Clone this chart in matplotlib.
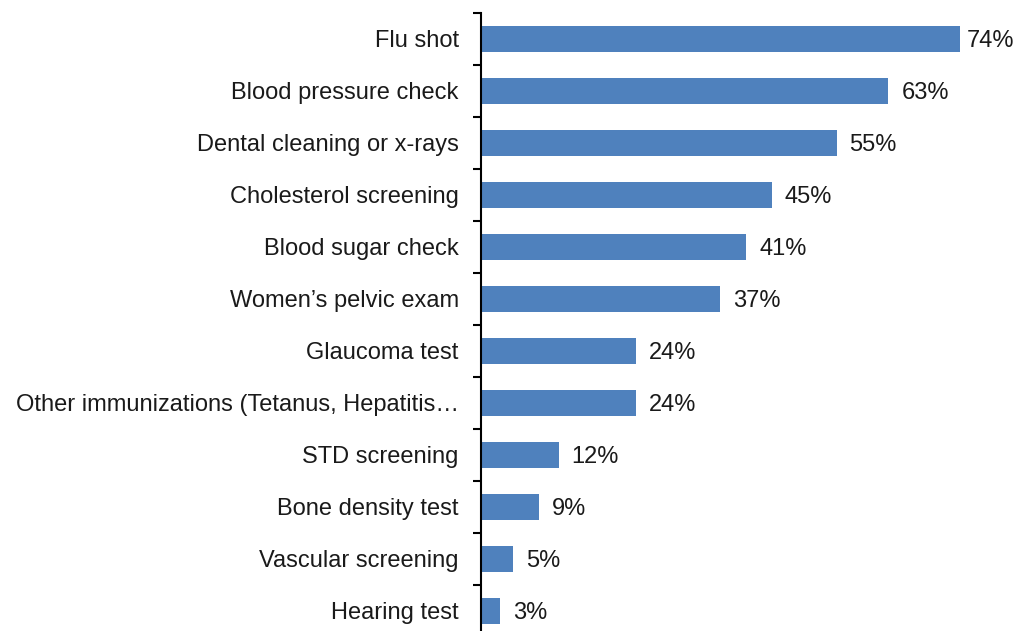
import numpy as np
import matplotlib.pyplot as plt

plt.rcParams['font.family'] = ['Liberation Sans', 'DejaVu Sans']

categories = ['Flu shot', 'Blood pressure check', 'Dental cleaning or x-rays',
              'Cholesterol screening', 'Blood sugar check', 'Women\u2019s pelvic exam',
              'Glaucoma test', 'Other immunizations (Tetanus, Hepatitis\u2026',
              'STD screening', 'Bone density test', 'Vascular screening', 'Hearing test']
values = [74, 63, 55, 45, 41, 37, 24, 24, 12, 9, 5, 3]

fig = plt.figure(figsize=(10.19, 6.31), dpi=100)
ax = fig.add_axes([0.472, -0.0095, 0.528, 0.9889])

y = np.arange(len(categories))
ax.barh(y, values, height=0.5, color='#4F81BD')

xmax = 83.2
for yi, v in zip(y, values):
    # label sits right of the bar, pulled in if it would run off the edge
    lx = min(v + 2.0, xmax - 8.1)
    ax.text(lx, yi, f'{v}%', va='center_baseline', ha='left', fontsize=17, color='#1a1a1a')

ax.set_xlim(0, xmax)
ax.set_ylim(len(categories) - 0.5, -0.5)

ax.set_yticks(y)
ax.set_yticklabels(categories, fontsize=17, color='#1a1a1a', va='center_baseline')
ax.tick_params(axis='y', which='major', length=0, pad=16)
ax.set_yticks(np.arange(-0.5, len(categories), 1.0), minor=True)
ax.tick_params(axis='y', which='minor', length=6, width=1.5, direction='out')
ax.set_xticks([])

for s in ['top', 'right', 'bottom']:
    ax.spines[s].set_visible(False)
ax.spines['left'].set_linewidth(1.5)

fig.savefig('out.png', dpi=100)
